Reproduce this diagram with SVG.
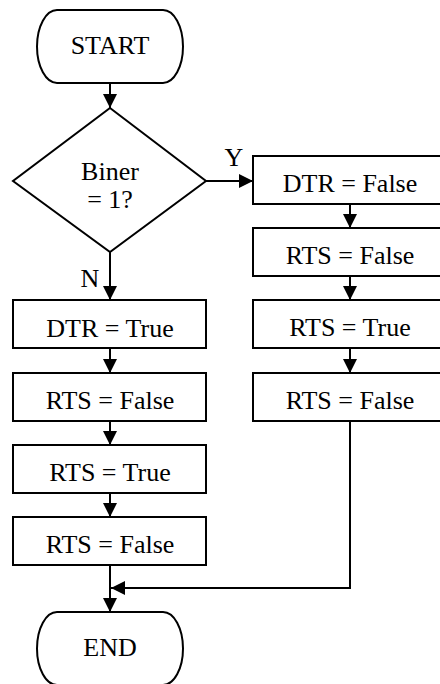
<svg xmlns="http://www.w3.org/2000/svg" width="440" height="684" viewBox="0 0 440 684">
<defs>
<style>
.s{fill:#fff;stroke:#000;stroke-width:2}
.t{font-family:"Liberation Serif","Times New Roman",serif;font-size:26px;fill:#000;text-anchor:middle}
.c{fill:none;stroke:#000;stroke-width:2}
</style>
<marker id="ah" viewBox="0 0 14 14" refX="14" refY="7" markerWidth="14" markerHeight="14" markerUnits="userSpaceOnUse" orient="auto">
<path d="M0,0 L14,7 L0,14 Z" fill="#000"/>
</marker>
</defs>
<rect width="440" height="684" fill="#fff"/>
<g id="connectors">
<line class="c" x1="110" y1="83" x2="110" y2="108" marker-end="url(#ah)"/>
<line class="c" x1="206" y1="181" x2="253" y2="181" marker-end="url(#ah)"/>
<line class="c" x1="110" y1="252" x2="110" y2="300" marker-end="url(#ah)"/>
<line class="c" x1="350" y1="204" x2="350" y2="228" marker-end="url(#ah)"/>
<line class="c" x1="350" y1="276" x2="350" y2="300" marker-end="url(#ah)"/>
<line class="c" x1="350" y1="348" x2="350" y2="373" marker-end="url(#ah)"/>
<line class="c" x1="110" y1="348" x2="110" y2="373" marker-end="url(#ah)"/>
<line class="c" x1="110" y1="421" x2="110" y2="445" marker-end="url(#ah)"/>
<line class="c" x1="110" y1="493" x2="110" y2="517" marker-end="url(#ah)"/>
<line class="c" x1="110" y1="565" x2="110" y2="612" marker-end="url(#ah)"/>
<polyline class="c" points="350,421 350,588 111,588" marker-end="url(#ah)"/>
<text class="t" x="234" y="166">Y</text>
<text class="t" x="90" y="287">N</text>
</g>
<g id="start">
<path class="s" d="M57,10 H163 A20,36.5 0 0 1 163,83 H57 A20,36.5 0 0 1 57,10 Z"/>
<text class="t" x="110" y="54">START</text>
</g>
<g id="decision">
<polygon class="s" points="110,108 206,181 110,252 13,181"/>
<text class="t" x="110" y="180">Biner</text>
<text class="t" x="110" y="208">= 1?</text>
</g>
<g id="dtr-false">
<rect class="s" x="253" y="156" width="194" height="48"/>
<text class="t" x="350" y="192">DTR = False</text>
</g>
<g id="rts-false-r1">
<rect class="s" x="253" y="228" width="194" height="48"/>
<text class="t" x="350" y="264">RTS = False</text>
</g>
<g id="rts-true-r">
<rect class="s" x="253" y="300" width="194" height="48"/>
<text class="t" x="350" y="336">RTS = True</text>
</g>
<g id="rts-false-r2">
<rect class="s" x="253" y="373" width="194" height="48"/>
<text class="t" x="350" y="409">RTS = False</text>
</g>
<g id="dtr-true">
<rect class="s" x="13" y="300" width="193" height="48"/>
<text class="t" x="110" y="337">DTR = True</text>
</g>
<g id="rts-false-l1">
<rect class="s" x="13" y="373" width="193" height="48"/>
<text class="t" x="110" y="409">RTS = False</text>
</g>
<g id="rts-true-l">
<rect class="s" x="13" y="445" width="193" height="48"/>
<text class="t" x="110" y="481">RTS = True</text>
</g>
<g id="rts-false-l2">
<rect class="s" x="13" y="517" width="193" height="48"/>
<text class="t" x="110" y="553">RTS = False</text>
</g>
<g id="end">
<path class="s" d="M57,612 H163 A20,36.5 0 0 1 163,685 H57 A20,36.5 0 0 1 57,612 Z"/>
<text class="t" x="110" y="656">END</text>
</g>
</svg>
